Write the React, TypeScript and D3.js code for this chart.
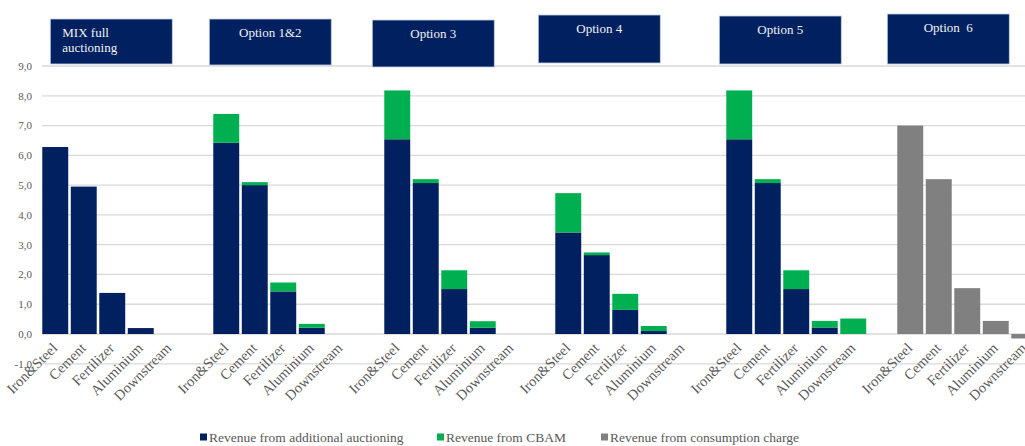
import React from 'react';
import * as d3 from 'd3';

const categories = ['Iron&Steel', 'Cement', 'Fertilizer', 'Aluminium', 'Downstream'];
const scenarios = ['MIX full auctioning', 'Option 1&2', 'Option 3', 'Option 4', 'Option 5', 'Option  6'];

// values per scenario, per category
const auctioning = [
  [6.28, 4.95, 1.38, 0.2, 0],
  [6.42, 5.0, 1.43, 0.21, 0],
  [6.54, 5.07, 1.51, 0.21, 0],
  [3.41, 2.65, 0.81, 0.1, 0],
  [6.54, 5.07, 1.51, 0.22, 0],
  [0, 0, 0, 0, 0],
];
const cbam = [
  [0, 0, 0, 0, 0],
  [0.97, 0.1, 0.3, 0.13, 0],
  [1.64, 0.13, 0.63, 0.22, 0],
  [1.32, 0.09, 0.54, 0.17, 0],
  [1.64, 0.13, 0.63, 0.22, 0.52],
  [0, 0, 0, 0, 0],
];
const consumption = [
  [0, 0, 0, 0, 0],
  [0, 0, 0, 0, 0],
  [0, 0, 0, 0, 0],
  [0, 0, 0, 0, 0],
  [0, 0, 0, 0, 0],
  [7.0, 5.2, 1.54, 0.44, -0.15],
];
const yTicks = [-1, 0, 1, 2, 3, 4, 5, 6, 7, 8, 9];
const seriesNames = ['Revenue from additional auctioning', 'Revenue from CBAM', 'Revenue from consumption charge'];
const seriesColors = ['#002060', '#00B050', '#808080'];

// layout of the title boxes (manually placed in the original)
const boxLayout = [
  { dx: 8, top: 19, bottom: 64 },
  { dx: -4, top: 19, bottom: 65 },
  { dx: -12, top: 20, bottom: 67 },
  { dx: -17, top: 15, bottom: 63 },
  { dx: -7, top: 16, bottom: 64 },
  { dx: -10, top: 14, bottom: 64 },
];
const legendX = [200, 437, 601];

const FONT = "'Liberation Serif', 'Times New Roman', serif";

export default function App() {
  const W = 1025;
  const H = 446;
  const step = 28.5;
  const slots: string[] = [];
  scenarios.forEach((_, g) => {
    categories.forEach((_, i) => slots.push(`${g}|${i}`));
    slots.push(`${g}|gap`);
  });
  const x = d3
    .scaleBand<string>()
    .domain(slots)
    .range([41, 41 + slots.length * step])
    .paddingInner(0.09)
    .paddingOuter(0.045);
  const y = d3.scaleLinear().domain([-1, 9]).range([363.8, 66]);

  const rows: any[] = [];
  scenarios.forEach((_, g) =>
    categories.forEach((_, i) =>
      rows.push({ key: `${g}|${i}`, g, i, a: auctioning[g][i], b: cbam[g][i], c: consumption[g][i] })
    )
  );
  const layers = d3.stack<any>().keys(['a', 'b', 'c']).offset(d3.stackOffsetDiverging)(rows);
  const bw = x.bandwidth();
  const fmt = (v: number) => d3.format('.1f')(v).replace('.', ',').replace('−', '-');

  return (
    <div style={{ position: 'absolute', left: 0, top: 0, width: W, height: H }}>
      <svg width={W} height={H} style={{ display: 'block' }} fontFamily={FONT}>
        <rect width={W} height={H} fill="#fff" />
        {yTicks.map((t) => (
          <g key={t}>
            <line x1={42} x2={W} y1={y(t)} y2={y(t)} stroke="#d9d9d9" strokeWidth={1.3} />
            <text x={32} y={y(t)} dy="0.35em" textAnchor="end" fontSize={11} fill="#595959" fontFamily={FONT}>
              {fmt(t)}
            </text>
          </g>
        ))}
        {layers.map((layer, li) =>
          layer.map((d: any) => {
            const v = d.data[layer.key];
            if (!v) return null;
            const y0 = y(d[0]);
            const y1 = y(d[1]);
            return (
              <rect
                key={`${li}-${d.data.key}`}
                x={x(d.data.key)}
                y={Math.min(y0, y1)}
                width={bw}
                height={Math.abs(y0 - y1)}
                fill={seriesColors[li]}
              />
            );
          })
        )}
        {rows.map((r) => {
          const cx = (x(r.key) as number) + bw / 2;
          return (
            <text
              key={`lbl-${r.key}`}
              transform={`translate(${cx + 3},${349}) rotate(-45)`}
              textAnchor="end"
              fontSize={14.5}
              fill="#595959"
              fontFamily={FONT}
            >
              {categories[r.i]}
            </text>
          );
        })}
        {scenarios.map((s, g) => {
          const bl = boxLayout[g];
          const boxX = (x(`${g}|0`) as number) + bl.dx;
          const bwid = 122;
          const lines = g === 0 ? ['MIX full', 'auctioning'] : [s];
          return (
            <g key={`box-${g}`}>
              <rect
                x={boxX}
                y={bl.top}
                width={bwid}
                height={bl.bottom - bl.top}
                fill="#002060"
                stroke="#c5cfe3"
                strokeWidth={0.8}
              />
              {lines.map((ln, li) => (
                <text
                  key={li}
                  x={g === 0 ? boxX + 12 : boxX + bwid / 2}
                  y={bl.top + 18 + li * 15}
                  textAnchor={g === 0 ? 'start' : 'middle'}
                  fontSize={13}
                  fill="#f2f2f2"
                  fontFamily={FONT}
                  style={{ whiteSpace: 'pre' }}
                >
                  {ln}
                </text>
              ))}
            </g>
          );
        })}
        {seriesNames.map((n, i) => (
          <g key={n}>
            <rect x={legendX[i]} y={433.5} width={7} height={7} fill={seriesColors[i]} />
            <text x={legendX[i] + 9} y={437} dy="0.35em" fontSize={13.5} fill="#595959" fontFamily={FONT}>
              {n}
            </text>
          </g>
        ))}
      </svg>
    </div>
  );
}
